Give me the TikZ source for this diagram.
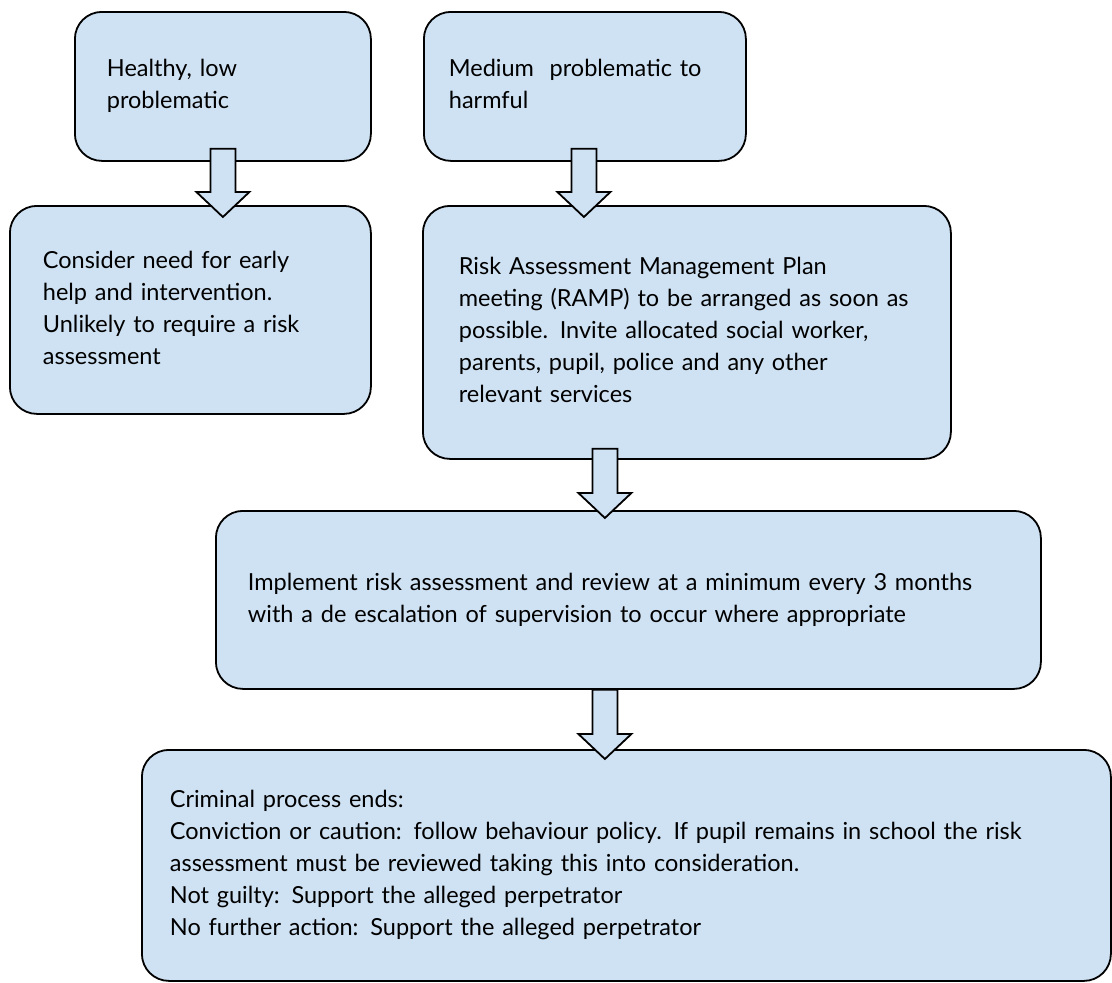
\documentclass[tikz,border=0pt]{standalone}
\usepackage{fontspec}
\setmainfont{Lato}
\usetikzlibrary{positioning,calc}
\definecolor{paleblue}{RGB}{207,226,243}
\tikzset{
  stage/.style 2 args={draw=black, line width=1.8pt, fill=paleblue, rounded corners=27pt,
    anchor=north west, align=left, inner xsep=0pt, inner ysep=0pt,
    text width=#1, minimum height=#2, font=\fontsize{23.5}{32}\selectfont},
  blockarr/.style={draw=black, line width=1.8pt, fill=paleblue, line join=miter}
}
% text block set in from the left side of a box
\newcommand\stagetext[2]{\hspace*{#1}\begin{tabular}{@{}l@{}}#2\end{tabular}}
% hollow down arrow from (#1) to its tip (#2)
\newcommand\blockarrow[2]{%
  \filldraw[blockarr] ($(#1)+(-12.5,0)$) -- ($(#2)+(-12.5,-25)$) -- ($(#2)+(-26.5,-25)$)
    -- (#2) -- ($(#2)+(26.5,-25)$) -- ($(#2)+(12.5,-25)$) -- ($(#1)+(12.5,0)$) -- cycle;}
\begin{document}
\begin{tikzpicture}[x=1pt,y=-1pt]
\useasboundingbox (0,0) rectangle (1112,983);
\node[stage={296pt}{149pt}] (healthy) at (74,11) {\stagetext{32pt}{Healthy, low\\problematic}};
\node[stage={322pt}{149pt}] (medium) at (423,11) {\stagetext{25pt}{Medium\ \ problematic to\\harmful}};
\node[stage={361pt}{208pt}] (consider) at (9,205) {\stagetext{33pt}{Consider need for early\\help and intervention.\\Unlikely to require a risk\\assessment}};
\node[stage={528pt}{253pt}] (ramp) at (422,205) {\stagetext{36pt}{Risk Assessment Management Plan\\meeting (RAMP) to be arranged as soon as\\possible. Invite allocated social worker,\\parents, pupil, police and any other\\relevant services}};
\node[stage={825pt}{178pt}] (implement) at (215,510) {\stagetext{32pt}{Implement risk assessment and review at a minimum every 3 months\\with a de escalation of supervision to occur where appropriate}};
\node[stage={969pt}{231pt}] (criminal) at (141,749) {\stagetext{28pt}{Criminal process ends:\\Conviction or caution: follow behaviour policy. If pupil remains in school the risk\\assessment must be reviewed taking this into consideration.\\Not guilty: Support the alleged perpetrator\\No further action: Support the alleged perpetrator}};

\coordinate (s1) at ($(healthy.south)+(0,-13)$);
\coordinate (t1) at ($(consider.north)+(32.5,12)$);
\coordinate (s2) at ($(medium.south)+(-1,-13)$);
\coordinate (t2) at ($(ramp.north)+(-103,12)$);
\coordinate (s3) at ($(ramp.south)+(-82,-11)$);
\coordinate (t3) at ($(implement.north)+(-23.5,8)$);
\coordinate (s4) at ($(implement.south)+(-23.5,0)$);
\coordinate (t4) at ($(criminal.north)+(-21.5,10)$);
\blockarrow{s1}{t1}
\blockarrow{s2}{t2}
\blockarrow{s3}{t3}
\blockarrow{s4}{t4}
\end{tikzpicture}
\end{document}
